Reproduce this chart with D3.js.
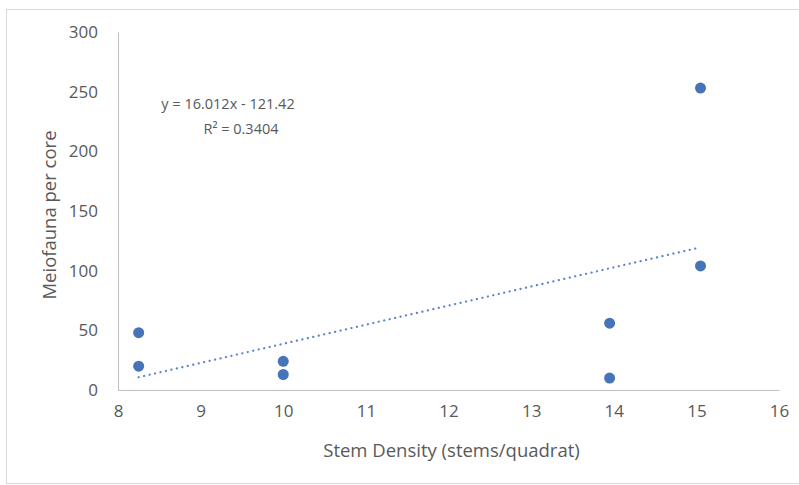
<!DOCTYPE html>
<html>
<head>
<meta charset="utf-8">
<script src="https://cdn.jsdelivr.net/npm/d3@7"></script>
<style>
  body { margin: 0; background: #fff; }
  text { font-family: "Open Sans", sans-serif; fill: #595959; }
</style>
</head>
<body>
<div id="main"></div>
<script>
// data
var stemDensity = [8.25, 8.25, 10, 10, 13.95, 13.95, 15.05, 15.05];
var meiofauna   = [48, 20, 24, 13, 56, 10, 253, 104];
var xTicks = [8, 9, 10, 11, 12, 13, 14, 15, 16];
var yTicks = [0, 50, 100, 150, 200, 250, 300];
var trendSlope = 16.012, trendIntercept = -121.42;
var equationText = "y = 16.012x - 121.42",
    r2Text = "R\u00b2 = 0.3404";

// dimensions
var svg_width = 799,
    svg_height = 485;
var margin = {top: 32, right: 20, bottom: 95, left: 118};
var graph_width = 779 - margin.left,
    graph_height = 390 - margin.top;

var root = d3.select("#main").append("svg")
    .attr("width", svg_width)
    .attr("height", svg_height);

// chart border
root.append("rect")
    .attr("x", 6.5).attr("y", 9.5)
    .attr("width", 800).attr("height", 474)
    .attr("fill", "none")
    .attr("stroke", "#d9d9d9");

var svg = root.append("g")
    .attr("transform", "translate(" + margin.left + "," + margin.top + ")");

var xScale = d3.scaleLinear().domain([8, 16]).range([0, graph_width]);
var yScale = d3.scaleLinear().domain([0, 300]).range([graph_height, 0]);

/** axes **/
var xAxis = svg.append("g")
    .attr("transform", "translate(0," + graph_height + ")")
    .call(d3.axisBottom(xScale).tickValues(xTicks).tickSize(0).tickPadding(15));
var yAxis = svg.append("g")
    .call(d3.axisLeft(yScale).tickValues(yTicks).tickSize(0).tickPadding(20));

[xAxis, yAxis].forEach(function (a) {
    a.select(".domain").attr("stroke", "#bfbfbf");
    a.selectAll("text")
        .attr("fill", "#595959")
        .style("font-family", "'Open Sans', sans-serif")
        .style("font-size", "17px");
});

svg.append("text")
    .attr("x", graph_width / 2 + 3)
    .attr("y", graph_height + 67)
    .attr("text-anchor", "middle")
    .style("font-size", "18.5px")
    .text("Stem Density (stems/quadrat)");

svg.append("text")
    .attr("transform", "translate(-62," + (graph_height / 2 + 4) + ") rotate(-90)")
    .attr("text-anchor", "middle")
    .style("font-size", "18.5px")
    .text("Meiofauna per core");

/** trendline **/
var xr = d3.extent(stemDensity);
svg.append("line")
    .attr("x1", xScale(xr[0]))
    .attr("y1", yScale(trendSlope * xr[0] + trendIntercept))
    .attr("x2", xScale(xr[1]))
    .attr("y2", yScale(trendSlope * xr[1] + trendIntercept))
    .attr("stroke", "#5585cc")
    .attr("stroke-width", 2.2)
    .attr("stroke-linecap", "round")
    .attr("stroke-dasharray", "0.1 5.5");

/** points **/
svg.selectAll(".pt")
    .data(stemDensity)
    .enter()
    .append("circle")
    .attr("class", "pt")
    .attr("cx", function (d) { return xScale(d); })
    .attr("cy", function (d, i) { return yScale(meiofauna[i]); })
    .attr("r", 5.5)
    .attr("fill", "#4574b8");

/** equation label **/
svg.append("text")
    .attr("x", 110).attr("y", 77)
    .attr("text-anchor", "middle")
    .style("font-size", "14.5px")
    .text(equationText);
svg.append("text")
    .attr("x", 123).attr("y", 102)
    .attr("text-anchor", "middle")
    .style("font-size", "14.5px")
    .text(r2Text);
</script>
</body>
</html>
